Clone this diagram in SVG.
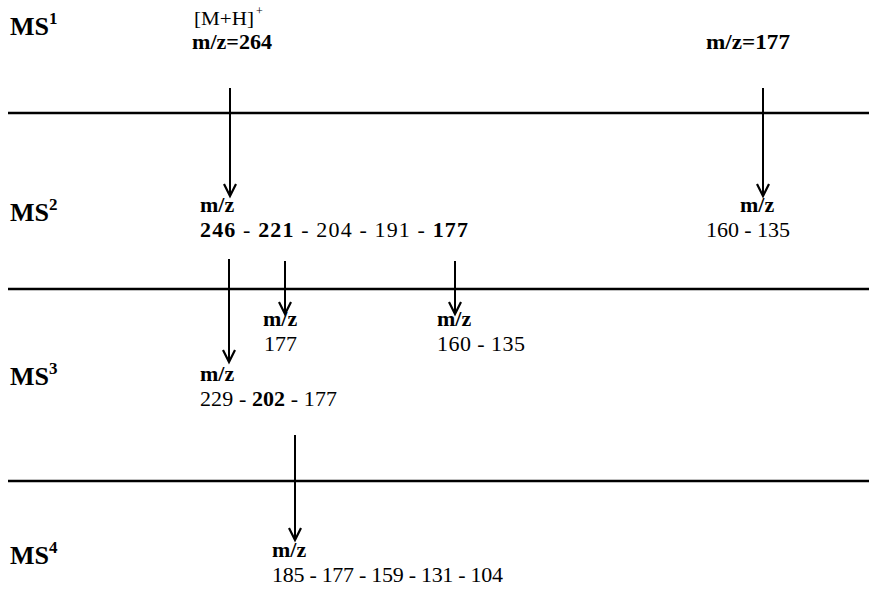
<svg xmlns="http://www.w3.org/2000/svg" width="869" height="589" viewBox="0 0 869 589">
<style>
text{font-family:"Liberation Serif","Times New Roman",serif;fill:#000}
.lab{font-size:26px;font-weight:bold}
.sup{font-size:17px;font-weight:bold}
.t{font-size:22px}
.b{font-weight:bold}
.sep{stroke:#000;stroke-width:2.5}
.arr{stroke:#000;stroke-width:2;fill:none;marker-end:url(#ah)}
</style>
<defs>
<marker id="ah" markerUnits="userSpaceOnUse" markerWidth="18" markerHeight="18" viewBox="-15 -9 18 18" refX="0" refY="0" orient="auto">
<path d="M-12,-6 L0,0 L-12,6" fill="none" stroke="#000" stroke-width="2.2"/>
</marker>
</defs>
<rect width="869" height="589" fill="#fff"/>
<g id="separators">
<line class="sep" x1="8" y1="113" x2="869" y2="113"/>
<line class="sep" x1="8" y1="289" x2="869" y2="289"/>
<line class="sep" x1="8" y1="481" x2="869" y2="481"/>
</g>
<g id="stage-labels">
<text class="lab" x="10" y="35">MS<tspan class="sup" dy="-11">1</tspan></text>
<text class="lab" x="10" y="221">MS<tspan class="sup" dy="-11">2</tspan></text>
<text class="lab" x="10" y="385">MS<tspan class="sup" dy="-11">3</tspan></text>
<text class="lab" x="10" y="564">MS<tspan class="sup" dy="-11">4</tspan></text>
</g>
<g id="ms1-precursor">
<text x="194" y="25" font-size="19" textLength="60" lengthAdjust="spacingAndGlyphs">[M+H]</text>
<text x="256" y="15" font-size="12">+</text>
<text class="b" x="192" y="49" font-size="20" textLength="80" lengthAdjust="spacingAndGlyphs">m/z=264</text>
</g>
<g id="ms1-177">
<text class="b" x="706" y="49" font-size="20" textLength="84" lengthAdjust="spacingAndGlyphs">m/z=177</text>
</g>
<g id="ms2-main">
<text class="t b" x="200" y="212">m/z</text>
<text class="t" x="200" y="237" textLength="268" lengthAdjust="spacing"><tspan class="b">246</tspan> - <tspan class="b">221</tspan> - 204 - 191 - <tspan class="b">177</tspan></text>
</g>
<g id="ms2-177">
<text class="t b" x="740" y="212">m/z</text>
<text class="t" x="706" y="237" textLength="84" lengthAdjust="spacing">160 - 135</text>
</g>
<g id="ms3-221">
<text class="t b" x="263" y="326">m/z</text>
<text class="t" x="264" y="351">177</text>
</g>
<g id="ms3-177">
<text class="t b" x="437" y="326">m/z</text>
<text class="t" x="437" y="351" textLength="88" lengthAdjust="spacing">160 - 135</text>
</g>
<g id="ms3-246">
<text class="t b" x="200" y="381">m/z</text>
<text class="t" x="200" y="406" textLength="137" lengthAdjust="spacing">229 - <tspan class="b">202</tspan> - 177</text>
</g>
<g id="ms4-202">
<text class="t b" x="272" y="557">m/z</text>
<text class="t" x="272" y="582" textLength="231" lengthAdjust="spacing">185 - 177 - 159 - 131 - 104</text>
</g>
<g id="connectors">
<line class="arr" x1="230" y1="88" x2="230" y2="196"/>
<line class="arr" x1="763" y1="88" x2="763" y2="196"/>
<line class="arr" x1="229" y1="259" x2="229" y2="362"/>
<line class="arr" x1="285" y1="261" x2="285" y2="314"/>
<line class="arr" x1="455" y1="261" x2="455" y2="314"/>
<line class="arr" x1="295" y1="435" x2="295" y2="540"/>
</g>
</svg>
